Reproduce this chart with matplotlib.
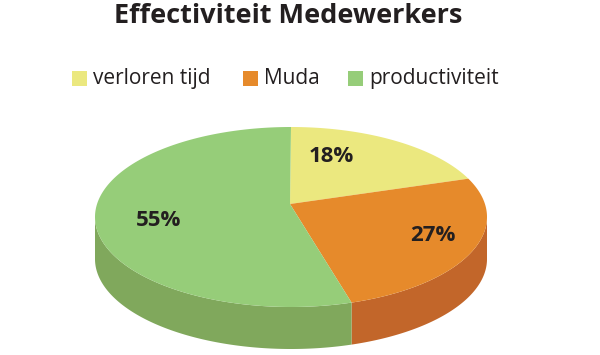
import matplotlib.pyplot as plt
import numpy as np
from matplotlib.patches import Polygon, Rectangle

categories = ['verloren tijd', 'Muda', 'productiviteit']
values = [18, 27, 55]
labels = ['18%', '27%', '55%']
top_colors = ['#ebe87f', '#e68a2b', '#96cd79']
side_colors = ['#c9c66a', '#c2662a', '#80a85c']

plt.rcParams['font.family'] = ['Open Sans', 'DejaVu Sans']
text_color = '#231f20'

fig = plt.figure(figsize=(6, 3.55), dpi=100)
ax = fig.add_axes([0, 0, 1, 1])
ax.set_xlim(0, 600)
ax.set_ylim(355, 0)
ax.axis('off')

# pie geometry (pixel space, y down)
cx, cy = 291, 217
a, b = 196, 90
depth = 42
vx, vy = 290, 204


def arc(t0, t1, n=200):
    t = np.radians(np.linspace(t0, t1, n))
    return cx + a * np.cos(t), cy - b * np.sin(t)


fracs = np.array(values) / np.sum(values)
starts = 90 - 360 * np.concatenate([[0], np.cumsum(fracs)[:-1]])
ends = starts - 360 * fracs

# side walls, front half only
for s, e, c in zip(starts, ends, side_colors):
    for lo_lim, hi_lim in ((-180, 0), (-540, -360)):
        lo, hi = max(e, lo_lim), min(s, hi_lim)
        if hi <= lo:
            continue
        x, y = arc(hi, lo)
        pts = np.column_stack([np.concatenate([x, x[::-1]]),
                               np.concatenate([y, y[::-1] + depth])])
        ax.add_patch(Polygon(pts, closed=True, facecolor=c, edgecolor='none'))

# top faces
for s, e, c in zip(starts, ends, top_colors):
    x, y = arc(s, e)
    pts = np.column_stack([np.concatenate([[vx], x]), np.concatenate([[vy], y])])
    ax.add_patch(Polygon(pts, closed=True, facecolor=c, edgecolor='none'))

# percentage labels (radius and angle nudge per slice)
label_r = [0.58, 0.80, 0.69]
label_dt = [11, -1, 5]
for s, e, lab, r, dt in zip(starts, ends, labels, label_r, label_dt):
    m = np.radians((s + e) / 2 + dt)
    ax.text(vx + a * r * np.cos(m), vy - b * r * np.sin(m) + 7, lab,
            ha='center', va='baseline', fontsize=16, fontweight='bold', color=text_color)

ax.text(288, 23, 'Effectiviteit Medewerkers', ha='center', va='baseline',
        fontsize=19.5, fontweight='bold', color=text_color)

# legend
leg_x = [72, 243, 348]
for lx, c, name in zip(leg_x, top_colors, categories):
    ax.add_patch(Rectangle((lx, 70.5), 15, 15, facecolor=c, edgecolor='none'))
    ax.text(lx + 21, 84, name, ha='left', va='baseline', fontsize=15, color=text_color)

fig.savefig('out.png', dpi=100)
